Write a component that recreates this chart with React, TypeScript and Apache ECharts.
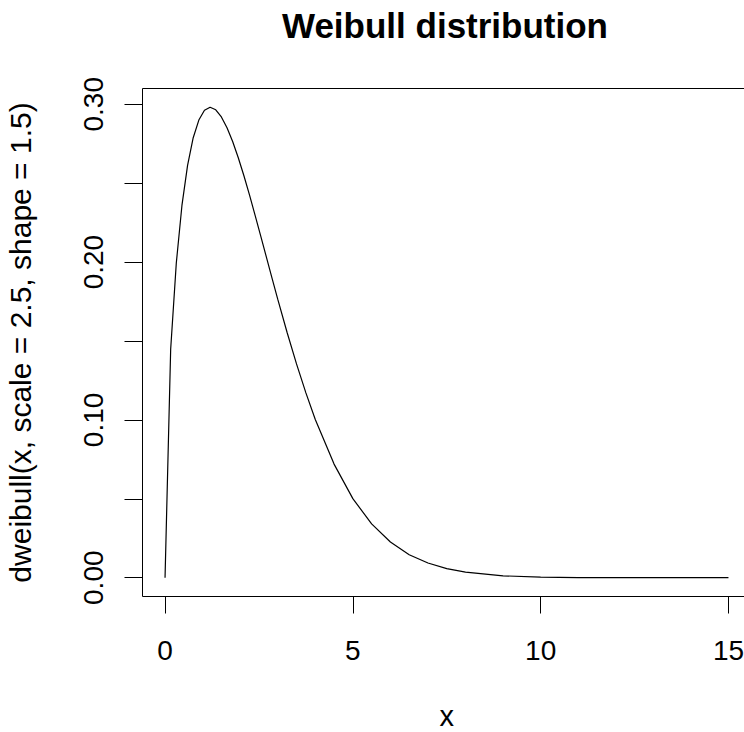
import React, { useEffect, useRef } from "react";
import * as echarts from "echarts";

const xValues = [0, 0.15, 0.3, 0.45, 0.6, 0.75, 0.9, 1.05, 1.2, 1.35, 1.5, 1.65, 1.8, 1.95, 2.1, 2.25, 2.4, 2.55, 2.7, 2.85, 3.0, 3.25, 3.5, 3.75, 4.0, 4.5, 5.0, 5.5, 6.0, 6.5, 7.0, 7.5, 8.0, 9.0, 10, 11, 12, 13, 15];
const densityValues = [0, 0.1448, 0.1994, 0.2359, 0.2613, 0.2788, 0.29, 0.2962, 0.2981, 0.2965, 0.292, 0.2851, 0.2764, 0.2661, 0.2547, 0.2424, 0.2295, 0.2163, 0.203, 0.1897, 0.1765, 0.1554, 0.1355, 0.1171, 0.1003, 0.072, 0.0501, 0.0341, 0.0226, 0.0146, 0.0093, 0.0058, 0.0035, 0.0012, 0.0004, 0.0001, 0.00003, 0, 0];
const xTicks = [0, 5, 10, 15];
const yTicks = [0, 0.05, 0.1, 0.15, 0.2, 0.25, 0.3];
const yLabels = [0, 0.1, 0.2, 0.3];

const FONT = "'Liberation Sans', Arial, sans-serif";

export default function App() {
  const ref = useRef<HTMLDivElement>(null);
  useEffect(() => {
    if (!ref.current) return;
    const chart = echarts.init(ref.current, null, { renderer: "svg" });
    chart.setOption({
      animation: false,
      backgroundColor: "#fff",
      textStyle: { fontFamily: FONT },
      graphic: [
        {
          type: "text",
          x: 445,
          y: 25,
          style: {
            text: "Weibull distribution",
            fontFamily: FONT,
            fontWeight: "bold",
            fontSize: 35,
            fill: "#000",
            textAlign: "center",
            textVerticalAlign: "middle",
          },
        },
      ],
      grid: {
        left: 142.5,
        right: 19,
        top: 88.5,
        bottom: 135.5,
        outerBoundsMode: "none",
        containLabel: false,
        show: true,
        borderColor: "#000",
        borderWidth: 1,
        backgroundColor: "transparent",
      },
      xAxis: {
        type: "value",
        min: -0.6,
        max: 15.6,
        name: "x",
        nameLocation: "middle",
        nameGap: 110,
        nameTextStyle: { fontFamily: FONT, fontSize: 29, lineHeight: 18, color: "#000" },
        axisLine: { show: false, onZero: false },
        splitLine: { show: false },
        axisTick: { show: true, inside: false, length: 17, customValues: xTicks, lineStyle: { color: "#000", width: 1 } },
        axisLabel: { customValues: xTicks, fontFamily: FONT, fontSize: 28, color: "#000", margin: 40 },
      },
      yAxis: {
        type: "value",
        min: -0.0119,
        max: 0.31,
        name: "dweibull(x, scale = 2.5, shape = 1.5)",
        nameLocation: "middle",
        nameRotate: 90,
        nameGap: 107,
        nameTextStyle: { fontFamily: FONT, fontSize: 30, color: "#000" },
        axisLine: { show: false, onZero: false },
        splitLine: { show: false },
        axisTick: { show: true, inside: false, length: 18, customValues: yTicks, lineStyle: { color: "#000", width: 1 } },
        axisLabel: {
          customValues: yLabels,
          rotate: 90,
          fontFamily: FONT,
          fontSize: 28,
          color: "#000",
          margin: 35,
          formatter: (v: number) => v.toFixed(2),
        },
      },
      series: [
        {
          type: "line",
          data: xValues.map((x, i) => [x, densityValues[i]]),
          showSymbol: false,
          smooth: false,
          lineStyle: { color: "#000", width: 1.2 },
          silent: true,
        },
      ],
    });
    return () => chart.dispose();
  }, []);
  return (
    <div style={{ position: "absolute", left: 0, top: 0, width: 744, height: 732, overflow: "hidden", background: "#fff" }}>
      <div ref={ref} style={{ width: 770, height: 732 }} />
    </div>
  );
}
